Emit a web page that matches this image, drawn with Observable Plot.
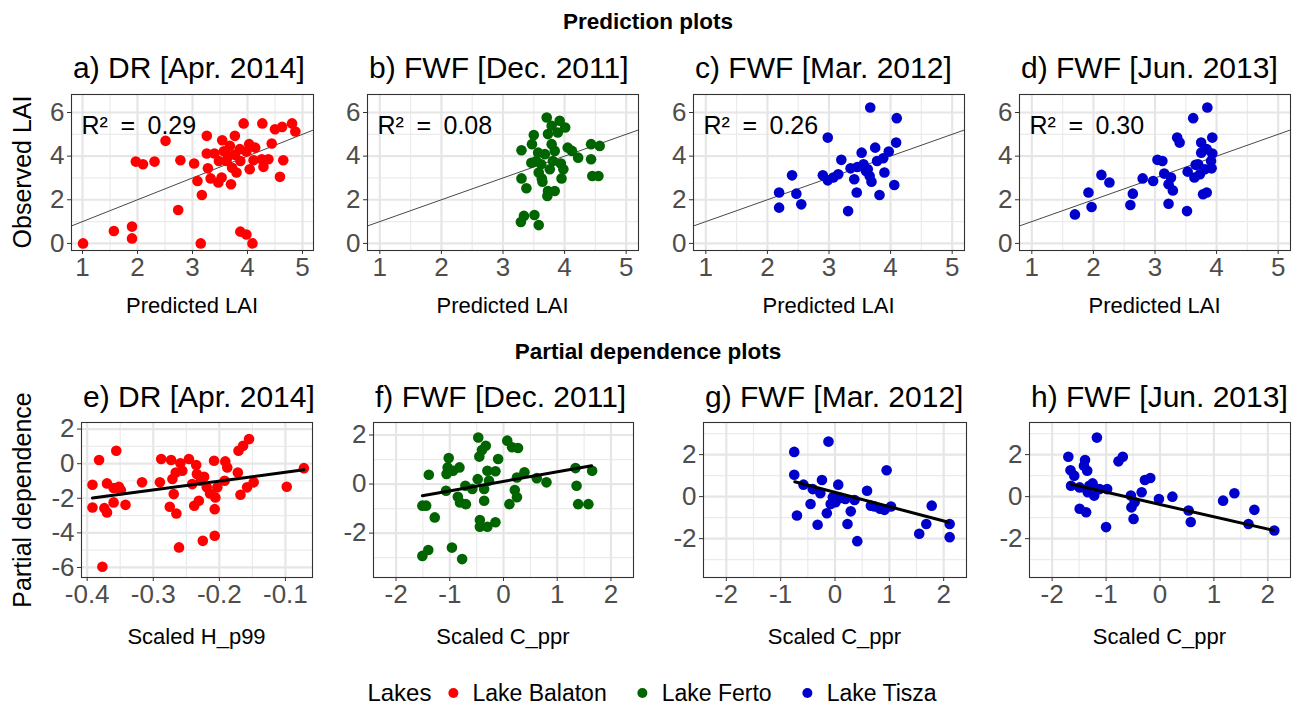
<!DOCTYPE html>
<html><head><meta charset="utf-8">
<script src="https://cdn.jsdelivr.net/npm/d3@7"></script>
<script src="https://cdn.jsdelivr.net/npm/@observablehq/plot@0.6"></script>
<style>
body{margin:0;background:#fff;font-family:"Liberation Sans",Arial,sans-serif;}
#root{position:relative;width:1296px;height:710px;overflow:hidden;background:#fff;}
.t{position:absolute;white-space:nowrap;line-height:1;color:#000;}
.c{transform:translate(-50%,-50%);}
.lc{transform:translate(0,-50%);}
.v{transform:translate(-50%,-50%) rotate(-90deg);}
svg{position:absolute;overflow:visible;}
</style></head><body><div id="root"></div>
<script>
// ---- categories / labels ----
const lakes = ["Lake Balaton", "Lake Ferto", "Lake Tisza"];
const lakeColors = ["#ff0000", "#006400", "#0000cd"];
const sectionTitles = ["Prediction plots", "Partial dependence plots"];
const panelTitles = ["a) DR [Apr. 2014]", "b) FWF [Dec. 2011]", "c) FWF [Mar. 2012]", "d) FWF [Jun. 2013]",
                     "e) DR [Apr. 2014]", "f) FWF [Dec. 2011]", "g) FWF [Mar. 2012]", "h) FWF [Jun. 2013]"];
const panelLake = ["Lake Balaton", "Lake Ferto", "Lake Tisza", "Lake Tisza",
                   "Lake Balaton", "Lake Ferto", "Lake Tisza", "Lake Tisza"];
const xTitles = ["Predicted LAI", "Predicted LAI", "Predicted LAI", "Predicted LAI",
                 "Scaled H_p99", "Scaled C_ppr", "Scaled C_ppr", "Scaled C_ppr"];
const yTitles = ["Observed LAI", "Partial dependence"];
const r2Values = ["0.29", "0.08", "0.26", "0.30"];

// ---- tick labels ----
const lai_xTicks = [1, 2, 3, 4, 5], lai_xMinor = [1.5, 2.5, 3.5, 4.5];
const lai_yTicks = [0, 2, 4, 6], lai_yMinor = [1, 3, 5];
const hp99_xTicks = [-0.4, -0.3, -0.2, -0.1], hp99_xMinor = [-0.35, -0.25, -0.15];
const pdE_yTicks = [-6, -4, -2, 0, 2], pdE_yMinor = [-5, -3, -1, 1];
const cppr_xTicks = [-2, -1, 0, 1, 2], cppr_xMinor = [-1.5, -0.5, 0.5, 1.5];
const pd_yTicks = [-2, 0, 2], pdF_yMinor = [-3, -1, 1], pdGH_yMinor = [-3, -1, 1, 3];

// ---- axis limits ----
const laiX = [0.8, 5.2], laiY = [-0.325, 6.825];
const hp99X = [-0.4086, -0.059], pdEY = [-6.58, 2.38];
const cpprX = [-2.42, 2.42], pdFY = [-3.81, 2.51], pdGHY = [-3.85, 3.53];

// ---- 1:1 reference line ----
const ablineSlope = 1, ablineIntercept = 0;

// ---- a) DR Apr 2014 (Balaton): predicted vs observed ----
const aX = [1.01,1.57,1.90,1.90,1.97,2.10,2.31,2.51,2.74,2.78,3.03,3.09,3.17,3.15,3.26,3.26,3.28,3.33,3.40,3.48,3.54,3.53,3.57,3.62,3.68,3.70,3.72,3.77,3.77,3.87,3.93,3.87,3.98,4.09,3.98,4.03,4.04,4.14,4.11,4.27,4.26,4.29,4.38,4.44,4.50,4.59,4.63,4.65,4.81,4.87,3.80,3.65,3.86,3.47];
const aY = [0,0.57,0.77,0.23,3.75,3.63,3.75,4.70,1.53,3.81,3.66,2.86,2.22,0,4.93,4.12,3.44,2.98,4.12,3.78,4.73,3.02,4.22,3.78,4.47,2.71,3.47,4.93,4.06,3.78,5.50,0.54,0.41,0,4.21,4.55,3.40,4.39,3.81,5.50,3.86,3.51,3.86,4.58,5.23,3.05,5.34,3.81,5.50,5.13,3.25,4.01,4.32,2.79];
// ---- b) FWF Dec 2011 (Ferto) ----
const bX = [3.30,3.30,3.38,3.29,3.34,3.51,3.58,3.47,3.50,3.46,3.54,3.58,3.63,3.62,3.68,3.71,3.73,3.73,3.72,3.76,3.79,3.79,3.84,3.81,3.89,3.92,4.01,3.94,3.95,3.98,4.05,4.12,4.22,4.43,4.43,4.45,4.55,4.57,3.57,3.84,3.64];
const bY = [2.98,4.27,2.53,0.98,1.26,1.30,0.84,4.55,4.97,3.70,3.78,3.25,2.98,3.63,4.09,5.77,5.01,2.40,2.17,3.40,5.39,4.55,2.40,3.78,5.08,5.62,5.31,3.66,2.98,3.40,4.39,4.24,3.93,4.55,3.86,3.09,3.09,4.47,4.16,4.24,2.83];
// ---- c) FWF Mar 2012 (Tisza) ----
const cX = [2.19,2.19,2.40,2.47,2.55,2.90,2.98,2.98,3.07,3.15,3.20,3.31,3.35,3.41,3.45,3.46,3.53,3.56,3.60,3.67,3.66,3.69,3.75,3.78,3.82,3.88,3.90,3.97,4.06,4.09,4.10,3.63];
const cY = [2.33,1.64,3.12,2.28,1.79,3.12,4.85,2.89,3.02,3.17,3.83,1.48,3.44,2.94,2.33,3.50,4.16,3.63,3.32,6.23,3.09,2.83,4.39,3.78,2.22,3.90,3.25,4.21,2.68,4.62,5.74,3.40];
// ---- d) FWF Jun 2013 (Tisza) ----
const dX = [1.70,1.92,1.97,2.13,2.26,2.60,2.64,2.80,2.97,3.04,3.12,3.15,3.22,3.26,3.29,3.22,3.36,3.40,3.52,3.53,3.62,3.64,3.66,3.73,3.75,3.75,3.78,3.85,3.84,3.81,3.84,3.91,3.93,3.92,3.93,3.70];
const dY = [1.33,2.33,1.67,3.14,2.79,1.76,2.28,2.98,2.86,3.83,3.78,3.20,2.71,3.02,2.43,1.82,4.85,4.62,1.48,3.29,5.74,3.02,3.60,3.17,4.62,4.16,2.25,6.23,2.33,3.40,4.32,3.78,4.85,3.44,4.12,3.63];
// ---- e) partial dependence on H_p99 ----
const eX = [-0.392,-0.392,-0.382,-0.377,-0.374,-0.370,-0.370,-0.360,-0.356,-0.352,-0.360,-0.349,-0.342,-0.317,-0.290,-0.288,-0.275,-0.273,-0.271,-0.269,-0.266,-0.265,-0.261,-0.259,-0.256,-0.246,-0.241,-0.238,-0.235,-0.234,-0.231,-0.228,-0.225,-0.223,-0.219,-0.214,-0.208,-0.207,-0.207,-0.206,-0.203,-0.191,-0.188,-0.192,-0.172,-0.171,-0.168,-0.164,-0.155,-0.158,-0.148,-0.098,-0.072];
const eY = [-1.22,-2.53,0.21,-5.96,-2.57,-1.14,-2.82,-1.41,0.75,-1.33,-2.24,-1.53,-2.38,-1.08,-1.08,0.27,-2.49,0.21,-0.89,-1.76,-0.51,-2.88,-4.84,0.02,-0.41,0.27,-1.18,-2.43,-0.08,-0.60,-2.14,-0.99,-4.46,-0.76,-1.37,-1.72,0.17,-4.17,-2.63,-1.95,-1.37,0.13,-0.22,-0.99,-0.51,0.75,-1.80,1.04,1.42,-1.37,-1.08,-1.33,-0.26];
// ---- f) partial dependence on C_ppr (Dec 2011) ----
const fX = [-1.51,-1.44,-1.51,-1.40,-1.39,-1.28,-1.07,-1.06,-1.02,-1.04,-0.96,-0.94,-0.82,-0.85,-0.81,-0.77,-0.71,-0.70,-0.58,-0.48,-0.47,-0.45,-0.44,-0.44,-0.40,-0.36,-0.36,-0.33,-0.30,-0.30,-0.27,-0.15,-0.15,-0.10,0.07,0.11,0.16,0.27,0.21,0.25,0.25,0.39,0.62,0.80,1.34,1.36,1.39,1.58,1.65];
const fY = [-0.88,-0.88,-2.93,-2.69,0.38,-1.36,-0.27,0.41,1.06,0.68,-2.59,0.54,0.68,-0.52,-0.75,-3.06,-0.07,-0.82,-0.20,0.20,1.90,1.12,-1.47,-1.74,1.39,-0.20,-0.68,1.56,-1.74,0.54,0.14,0.52,-1.56,1.02,1.77,-0.82,1.50,1.47,-0.24,-0.54,0.27,0.48,0.24,0.07,0.65,-0.07,-0.82,-0.82,0.54];
// ---- g) partial dependence on C_ppr (Mar 2012) ----
const gX = [-0.75,-0.75,-0.70,-0.58,-0.45,-0.41,-0.32,-0.27,-0.24,-0.15,-0.12,-0.08,-0.04,0.01,0.06,0.10,0.19,0.23,0.29,0.36,0.41,0.59,0.66,0.73,0.83,0.91,0.95,1.03,1.55,1.68,1.78,2.11,2.11];
const gY = [2.13,1.04,-0.90,0.57,-0.35,0.36,-1.34,0.16,0.79,-0.79,2.62,-0.35,-0.03,-0.27,0.57,-0.06,-0.11,-1.30,-0.70,-0.16,-2.12,0.28,-0.43,-0.47,-0.58,-0.63,1.26,-0.47,-1.77,-1.30,-0.43,-1.30,-1.93];
// ---- h) partial dependence on C_ppr (Jun 2013) ----
const hX = [-1.70,-1.66,-1.65,-1.59,-1.49,-1.49,-1.39,-1.41,-1.35,-1.37,-1.34,-1.31,-1.25,-1.22,-1.17,-1.12,-1.00,-0.98,-0.77,-0.69,-0.54,-0.53,-0.49,-0.47,-0.34,-0.28,-0.18,-0.02,0.23,0.53,0.57,1.17,1.38,1.64,1.75,2.12];
const hY = [1.90,1.26,0.52,1.00,0.44,-0.58,1.74,1.47,1.23,-0.74,0.21,0.52,0.63,0.05,2.81,0.36,-1.45,0.36,1.68,1.90,0.05,-0.51,-1.06,-0.27,0.21,0.79,0.89,-0.11,0.00,-0.66,-1.21,-0.19,0.16,-1.30,-0.63,-1.61];

// ---- fitted regression lines (partial dependence), endpoints ----
const fitX = [[-0.392, -0.072], [-1.51, 1.64], [-0.74, 2.09], [-1.66, 2.11]];
const fitY = [[-1.99, -0.35], [-0.48, 0.75], [0.71, -1.22], [0.60, -1.61]];

// ---- layout (page pixels of each panel box) ----
const frames = [[71,94,313,250],[367,94,638,250],[693,94,964,250],[1019,94,1290,250],
                [81,422,312,577],[373,422,633,577],[703,422,966,577],[1029,422,1290,577]];

const seriesX = [aX,bX,cX,dX,eX,fX,gX,hX];
const seriesY = [aY,bY,cY,dY,eY,fY,gY,hY];
const xDomains = [laiX,laiX,laiX,laiX,hp99X,cpprX,cpprX,cpprX];
const yDomains = [laiY,laiY,laiY,laiY,pdEY,pdFY,pdGHY,pdGHY];
const xTicks = [lai_xTicks,lai_xTicks,lai_xTicks,lai_xTicks,hp99_xTicks,cppr_xTicks,cppr_xTicks,cppr_xTicks];
const xMinors = [lai_xMinor,lai_xMinor,lai_xMinor,lai_xMinor,hp99_xMinor,cppr_xMinor,cppr_xMinor,cppr_xMinor];
const yTicks = [lai_yTicks,lai_yTicks,lai_yTicks,lai_yTicks,pdE_yTicks,pd_yTicks,pd_yTicks,pd_yTicks];
const yMinors = [lai_yMinor,lai_yMinor,lai_yMinor,lai_yMinor,pdE_yMinor,pdF_yMinor,pdGH_yMinor,pdGH_yMinor];

const FONT = "'Liberation Sans', Arial, sans-serif";
const root = document.getElementById("root");
const colorScale = {domain: lakes, range: lakeColors};

function addText(txt, x, y, cls, style) {
  const d = document.createElement("div");
  d.className = "t " + cls;
  d.textContent = txt;
  d.style.left = x + "px"; d.style.top = y + "px";
  Object.assign(d.style, style || {});
  root.appendChild(d);
  return d;
}

for (let i = 0; i < 8; i++) {
  const [l, t, r, b] = frames[i];
  const mL = 60, mR = 10, mT = 10, mB = 45;
  const pts = seriesX[i].map((x, k) => ({x, y: seriesY[i][k], lake: panelLake[i]}));
  const marks = [
    Plot.gridX(xMinors[i], {stroke: "#ebebeb", strokeOpacity: 1, strokeWidth: 1.2}),
    Plot.gridY(yMinors[i], {stroke: "#ebebeb", strokeOpacity: 1, strokeWidth: 1.2}),
    Plot.gridX(xTicks[i], {stroke: "#e6e6e6", strokeOpacity: 1, strokeWidth: 2.2}),
    Plot.gridY(yTicks[i], {stroke: "#e6e6e6", strokeOpacity: 1, strokeWidth: 2.2})
  ];
  if (i < 4) {
    const ab = xDomains[i].map(x => ({x, y: ablineIntercept + ablineSlope * x}));
    marks.push(Plot.line(ab, {x: "x", y: "y", stroke: "#333", strokeWidth: 0.9}));
  }
  marks.push(Plot.dot(pts, {x: "x", y: "y", r: 5.3, fill: "lake", stroke: null}));
  if (i >= 4) {
    const j = i - 4;
    const fl = fitX[j].map((x, k) => ({x, y: fitY[j][k]}));
    marks.push(Plot.line(fl, {x: "x", y: "y", stroke: "#000", strokeWidth: 3}));
  } else {
    marks.push(Plot.text(["R\u00B2\u2002=\u2002" + r2Values[i]], {frameAnchor: "top-left", text: d => d, dx: 10, dy: 22, textAnchor: "start", fontSize: 25, fill: "#000"}));
  }
  marks.push(Plot.frame({stroke: "#333", strokeWidth: 1.1}));
  marks.push(Plot.axisX(xTicks[i], {tickSize: 4, tickPadding: 3, fontSize: 26, fill: "#4d4d4d", stroke: "#333", label: null, tickFormat: d => String(d)}));
  marks.push(Plot.axisY(yTicks[i], {tickSize: 4, tickPadding: 3, fontSize: 26, fill: "#4d4d4d", stroke: "#333", label: null, tickFormat: d => String(d)}));

  const svg = Plot.plot({
    width: (r - l) + mL + mR, height: (b - t) + mT + mB,
    marginLeft: mL, marginRight: mR, marginTop: mT, marginBottom: mB,
    style: {background: "transparent", fontFamily: FONT, fontSize: "26px", overflow: "visible"},
    x: {domain: xDomains[i]}, y: {domain: yDomains[i]},
    color: colorScale,
    marks
  });
  svg.style.left = (l - mL) + "px";
  svg.style.top = (t - mT) + "px";
  root.appendChild(svg);

  // panel title (left aligned with panel)
  addText(panelTitles[i], l + 2, i < 4 ? 68 : 397, "lc", {fontSize: "30px"});
  // x-axis title
  addText(xTitles[i], (l + r) / 2, i < 4 ? 306 : 637, "c", {fontSize: "22px"});
}
// section titles
addText(sectionTitles[0], 648, 22, "c", {fontSize: "22.5px", fontWeight: "bold"});
addText(sectionTitles[1], 648, 352, "c", {fontSize: "22.5px", fontWeight: "bold"});
// y-axis titles
addText(yTitles[0], 22, 172, "v", {fontSize: "25px"});
addText(yTitles[1], 22, 500, "v", {fontSize: "25px"});

// legend
const leg = document.createElement("div");
leg.style.cssText = "position:absolute;left:652px;top:693px;transform:translate(-50%,-50%);display:flex;align-items:center;white-space:nowrap;line-height:1;";
const lt = document.createElement("span");
lt.textContent = "Lakes"; lt.style.cssText = "font-size:24px;margin-right:17px;";
leg.appendChild(lt);
lakes.forEach((name, k) => {
  const dot = document.createElement("span");
  dot.style.cssText = `display:inline-block;width:10px;height:10px;border-radius:50%;background:${lakeColors[k]};margin-right:14px;`;
  const lab = document.createElement("span");
  lab.textContent = name; lab.style.cssText = "font-size:23px;margin-right:" + (k < 2 ? 31 : 0) + "px;";
  leg.appendChild(dot); leg.appendChild(lab);
});
root.appendChild(leg);
</script>
</body></html>
